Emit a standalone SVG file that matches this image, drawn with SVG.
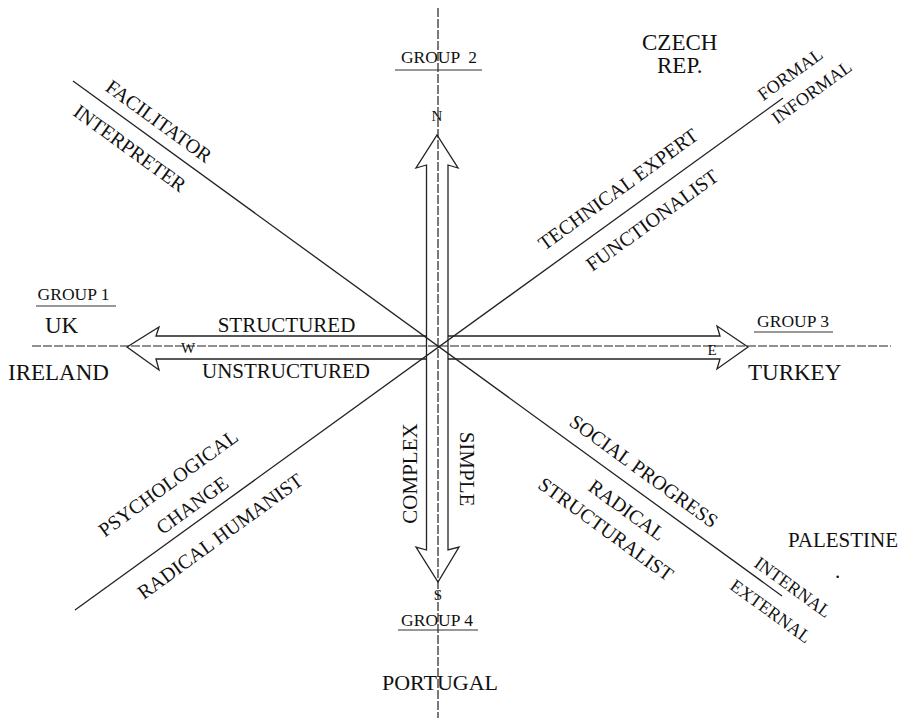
<svg xmlns="http://www.w3.org/2000/svg" width="901" height="720" viewBox="0 0 901 720">
<style>
text{font-family:"Liberation Serif","Times New Roman",serif;fill:#111}
.big{font-size:23px}
.med{font-size:20px}
.sm{font-size:18px}
.grp{font-size:17.5px}
.dir{font-size:15px}
.ln{stroke:#222;stroke-width:1.3;fill:none}
.dash{stroke:#222;stroke-width:1.2;fill:none;stroke-dasharray:9 2}
.ul{stroke:#333;stroke-width:1.2}
</style>
<rect width="901" height="720" fill="#fff"/>
<g id="connectors">
<line class="dash" x1="438" y1="8" x2="438" y2="718"/>
<line class="dash" x1="32" y1="346" x2="891" y2="346"/>
<line class="ln" x1="73" y1="81" x2="782" y2="596"/>
<line class="ln" x1="75" y1="610" x2="783" y2="98"/>
<path class="ln" d="M426.5,336 L156,336 L159,327 L127,347 L159,370 L156,359 L426.5,359"/>
<path class="ln" d="M448,336 L720,336 L717,326 L748,347 L717,369 L720,359 L448,359"/>
<path class="ln" d="M426.5,550 L426.5,165 L416,168 L437,135 L458,168 L448,165 L448,550 L459,547 L438,582 L416,547 Z"/>
</g>
<g id="dirs">
<text class="dir" x="437" y="121" text-anchor="middle">N</text>
<text class="dir" x="438" y="600" text-anchor="middle">S</text>
<text class="dir" x="188" y="353" text-anchor="middle">W</text>
<text class="dir" x="712" y="355" text-anchor="middle">E</text>
</g>
<g id="group1">
<text class="grp" x="73.5" y="300" text-anchor="middle">GROUP 1</text>
<line class="ul" x1="36" y1="306" x2="116" y2="306"/>
<text class="big" x="45" y="333">UK</text>
<text class="big" x="8" y="380">IRELAND</text>
</g>
<g id="group2">
<text class="grp" x="439" y="63" text-anchor="middle" xml:space="preserve">GROUP  2</text>
<line class="ul" x1="395" y1="70" x2="482" y2="70"/>
<text class="big" x="642" y="50">CZECH</text>
<text class="big" x="657" y="73">REP.</text>
</g>
<g id="group3">
<text class="grp" x="793" y="327" text-anchor="middle">GROUP 3</text>
<line class="ul" x1="754" y1="332" x2="833" y2="332"/>
<text class="big" x="748" y="380">TURKEY</text>
</g>
<g id="group4">
<text class="grp" x="437" y="626" text-anchor="middle">GROUP 4</text>
<line class="ul" x1="398" y1="630" x2="478" y2="630"/>
<text class="big" x="382" y="690" style="font-size:22px">PORTUGAL</text>
</g>
<g id="palestine">
<text class="big" x="788" y="547" style="font-size:21px">PALESTINE</text>
<text class="big" x="835" y="578" style="font-size:21px">.</text>
</g>
<g id="axis-labels">
<text class="med" x="286.5" y="332" text-anchor="middle" style="font-size:21px">STRUCTURED</text>
<text class="med" x="286" y="378" text-anchor="middle" style="font-size:21px">UNSTRUCTURED</text>
<text class="med" x="417" y="473.5" text-anchor="middle" style="font-size:21px" transform="rotate(-90 417 473.5)">COMPLEX</text>
<text class="med" x="460" y="469" text-anchor="middle" style="font-size:21px" transform="rotate(90 460 469)">SIMPLE</text>
</g>
<g id="nw-labels">
<text class="med" x="159" y="121" dy="0.35em" text-anchor="middle" transform="rotate(36 159 121)">FACILITATOR</text>
<text class="med" x="130" y="148" dy="0.35em" text-anchor="middle" transform="rotate(36 130 148)">INTERPRETER</text>
</g>
<g id="ne-labels">
<text class="med" x="618" y="189" dy="0.35em" text-anchor="middle" transform="rotate(-36 618 189)">TECHNICAL EXPERT</text>
<text class="med" x="652" y="220" dy="0.35em" text-anchor="middle" transform="rotate(-36 652 220)">FUNCTIONALIST</text>
<text class="sm" x="790" y="74" dy="0.35em" text-anchor="middle" transform="rotate(-36 790 74)">FORMAL</text>
<text class="sm" x="811.5" y="92" dy="0.35em" text-anchor="middle" transform="rotate(-36 811.5 92)">INFORMAL</text>
</g>
<g id="sw-labels">
<text class="med" x="168" y="483" dy="0.35em" text-anchor="middle" transform="rotate(-36 168 483)">PSYCHOLOGICAL</text>
<text class="med" x="192" y="505" dy="0.35em" text-anchor="middle" transform="rotate(-36 192 505)">CHANGE</text>
<text class="med" x="220" y="536" dy="0.35em" text-anchor="middle" transform="rotate(-36 220 536)">RADICAL HUMANIST</text>
</g>
<g id="se-labels">
<text class="med" x="644" y="471" dy="0.35em" text-anchor="middle" transform="rotate(36 644 471)">SOCIAL PROGRESS</text>
<text class="med" x="627" y="510" dy="0.35em" text-anchor="middle" transform="rotate(36 627 510)">RADICAL</text>
<text class="med" x="606" y="529" dy="0.35em" text-anchor="middle" transform="rotate(36 606 529)">STRUCTURALIST</text>
<text class="sm" x="793" y="587" dy="0.35em" text-anchor="middle" transform="rotate(36 793 587)">INTERNAL</text>
<text class="sm" x="771" y="611" dy="0.35em" text-anchor="middle" transform="rotate(36 771 611)">EXTERNAL</text>
</g>
</svg>
